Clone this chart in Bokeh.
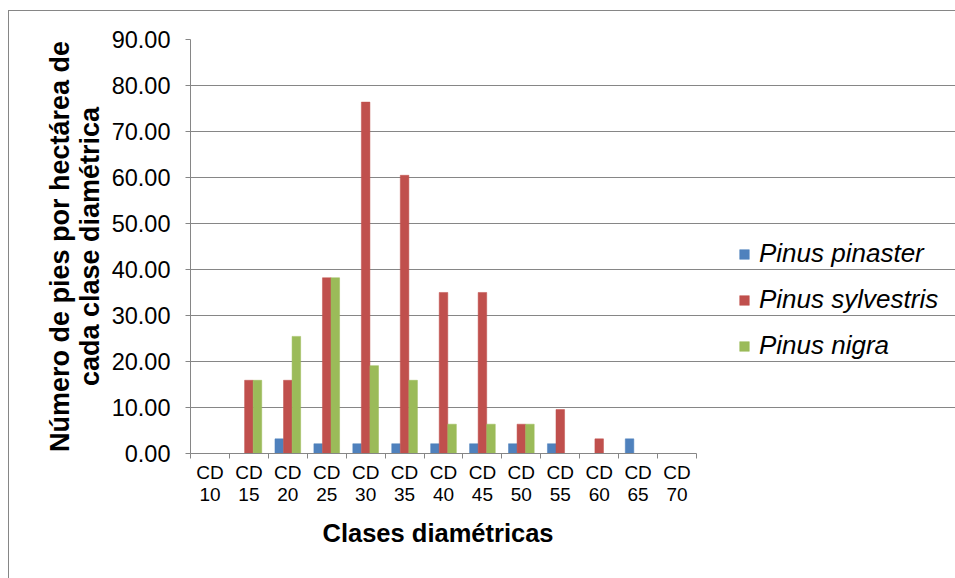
from bokeh.plotting import figure
from bokeh.models import (Range1d, FixedTicker, Legend, LegendItem, PrintfTickFormatter, Title)
from bokeh.embed import file_html
from bokeh.resources import INLINE

categories = ["CD 10", "CD 15", "CD 20", "CD 25", "CD 30", "CD 35", "CD 40",
              "CD 45", "CD 50", "CD 55", "CD 60", "CD 65", "CD 70"]
pinaster = [0, 0, 3.18, 2.12, 2.12, 2.12, 2.12, 2.12, 2.12, 2.12, 0, 3.18, 0]
sylvestris = [0, 15.92, 15.92, 38.20, 76.39, 60.48, 35.01, 35.01, 6.37, 9.55, 3.18, 0, 0]
nigra = [0, 15.92, 25.46, 38.20, 19.10, 15.92, 6.37, 6.37, 6.37, 0, 0, 0, 0]
series_names = ["Pinus pinaster", "Pinus sylvestris", "Pinus nigra"]
colors = ["#4F81BD", "#C0504D", "#9BBB59"]
y_ticks = [0, 10, 20, 30, 40, 50, 60, 70, 80, 90]

GRAY = "#868686"
FONT = "Liberation Sans"

n = len(categories)
# plot area spans 190..696 px for the 13 categories; the frame is extended to the
# right edge so that the legend can sit inside it
x_end = n * (955 - 190) / (696 - 190)
p = figure(width=955, height=578, output_backend="svg", toolbar_location=None,
           x_range=Range1d(0, x_end), y_range=Range1d(0, 90),
           min_border_left=190, min_border_right=0, min_border_top=39,
           min_border_bottom=125)
p.outline_line_color = None
p.background_fill_color = None
p.border_fill_color = None
p.styles = {
    "background": ("linear-gradient(#868686,#868686) 8px 10px / 947px 1px no-repeat, "
                   "linear-gradient(#868686,#868686) 8px 10px / 1px 568px no-repeat, white"),
}

bw = 0.22
centers = [i + 0.5 for i in range(n)]
renderers = []
for k, (vals, col) in enumerate(zip([pinaster, sylvestris, nigra], colors)):
    xs = [c + (k - 1) * bw for c in centers]
    r = p.vbar(x=xs, top=vals, width=bw, bottom=0, fill_color=col,
               line_color=col, line_width=0.5)
    renderers.append(r)

# axes
p.xgrid.visible = False
p.ygrid.grid_line_color = GRAY
p.ygrid.grid_line_width = 1
p.ygrid.ticker = FixedTicker(ticks=y_ticks)
p.ygrid.bounds = (0, n)

xa = p.xaxis[0]
xa.bounds = (0, n)
xa.ticker = FixedTicker(ticks=centers, minor_ticks=list(range(n + 1)))
xa.major_label_overrides = {c: lab.replace(" ", "\n") for c, lab in zip(centers, categories)}
xa.major_tick_line_color = None
xa.minor_tick_line_color = GRAY
xa.minor_tick_out = 5
xa.minor_tick_in = 0
xa.axis_line_color = GRAY
xa.major_label_text_font = FONT
xa.major_label_text_font_size = "19px"
xa.major_label_text_line_height = 1.05
xa.major_label_text_color = "black"
xa.major_label_standoff = 2

xtitle = Title(text="Clases diamétricas", align="left", offset=132,
               text_font=FONT, text_font_style="bold", text_font_size="25.5px",
               text_color="black", standoff=18)
p.add_layout(xtitle, "below")

ya = p.yaxis[0]
ya.ticker = FixedTicker(ticks=y_ticks)
ya.formatter = PrintfTickFormatter(format="%.2f")
ya.major_tick_out = 5
ya.major_tick_in = 0
ya.minor_tick_line_color = None
ya.major_tick_line_color = GRAY
ya.axis_line_color = GRAY
ya.major_label_text_font = FONT
ya.major_label_text_font_size = "23.5px"
ya.major_label_text_color = "black"
ya.major_label_standoff = 15
ya.axis_label = "Número de pies por hectárea de\ncada clase diamétrica"
ya.axis_label_text_font = FONT
ya.axis_label_text_font_style = "bold"
ya.axis_label_text_font_size = "27px"
ya.axis_label_text_line_height = 1.0
ya.axis_label_text_color = "black"
ya.axis_label_standoff = 4

legend = Legend(items=[LegendItem(label=nm, renderers=[r]) for nm, r in zip(series_names, renderers)],
                location=(548, 92), orientation="vertical",
                glyph_width=12, glyph_height=12, label_standoff=9,
                label_text_font=FONT, label_text_font_style="italic",
                label_text_font_size="26px", label_text_color="black",
                spacing=15, padding=0, margin=0, border_line_color=None,
                background_fill_alpha=0)
p.add_layout(legend, "center")

open("out.html", "w").write(file_html(p, INLINE))
